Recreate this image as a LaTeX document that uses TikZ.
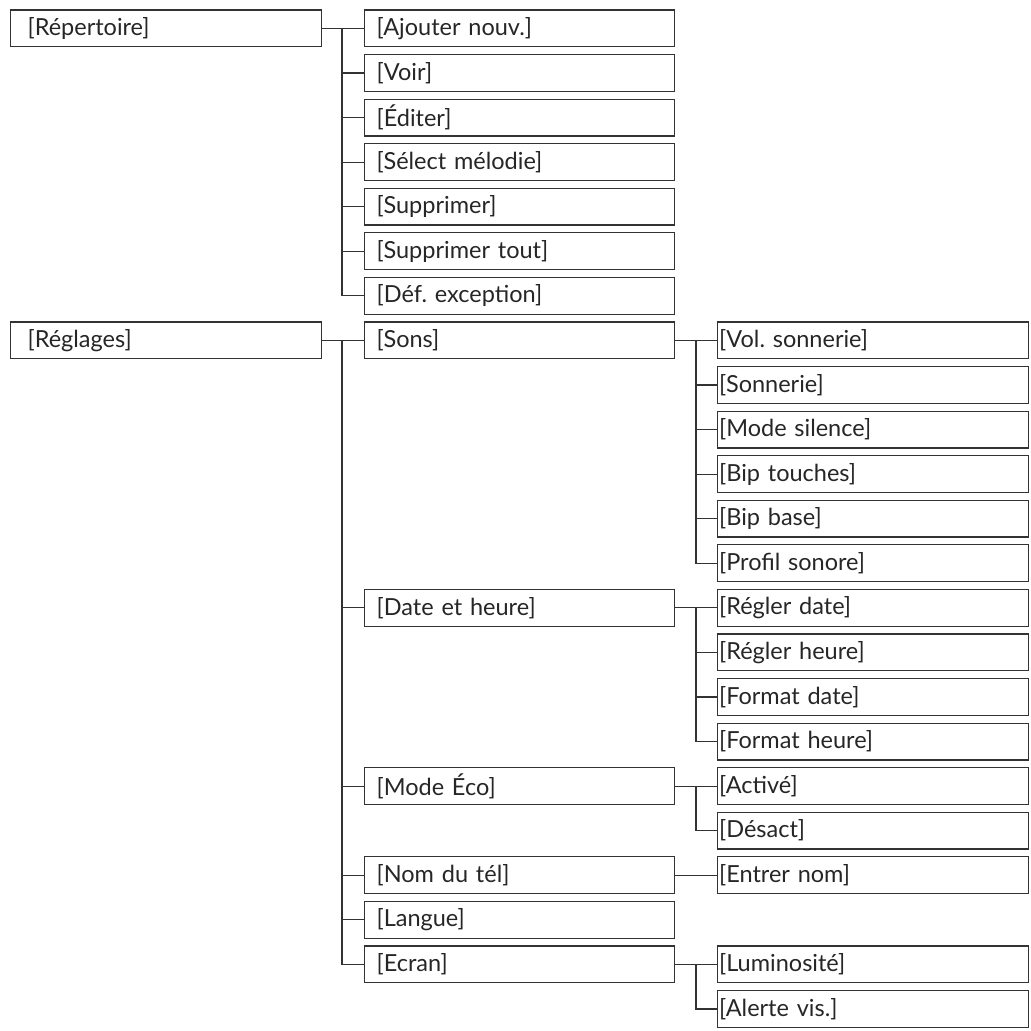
\documentclass[tikz,border=0pt]{standalone}
\usepackage{fontspec}
\setmainfont{Lato}
\begin{document}
\frenchspacing
\begin{tikzpicture}[x=1pt,y=-1pt,
  box/.style={draw=black!80, line width=1.2pt, rectangle, anchor=west, minimum height=36.8pt, inner ysep=0pt, align=left, font=\fontsize{23.5}{26}\selectfont, text=black!85},
  lone/.style={box, text width=311pt-34pt, inner xsep=17pt},
  ltwo/.style={box, text width=310pt-24pt, inner xsep=12pt},
  lthree/.style={box, text width=311pt-3pt, inner xsep=1.5pt},
  conn/.style={draw=black!80, line width=1.2pt}]
\useasboundingbox (0,0) rectangle (1031,1031);
\def\ry#1{28.4+#1*44.57}
\coordinate (ta) at (342,0);
\coordinate (tb) at (696,0);
% level 1
\node[lone] (rep) at (10,{\ry{0}}) {[Répertoire]};
\node[lone] (reg) at (10,{\ry{7}}) {[Réglages]};
% level 2
\node[ltwo] (a1) at (364,{\ry{0}}) {[Ajouter nouv.]};
\node[ltwo] (a2) at (364,{\ry{1}}) {[Voir]};
\node[ltwo] (a3) at (364,{\ry{2}}) {[Éditer]};
\node[ltwo] (a4) at (364,{\ry{3}}) {[Sélect mélodie]};
\node[ltwo] (a5) at (364,{\ry{4}}) {[Supprimer]};
\node[ltwo] (a6) at (364,{\ry{5}}) {[Supprimer tout]};
\node[ltwo] (a7) at (364,{\ry{6}}) {[Déf. exception]};
\node[ltwo] (b1) at (364,{\ry{7}}) {[Sons]};
\node[ltwo] (b2) at (364,{\ry{13}}) {[Date et heure]};
\node[ltwo] (b3) at (364,{\ry{17}}) {[Mode Éco]};
\node[ltwo] (b4) at (364,{\ry{19}}) {[Nom du tél]};
\node[ltwo] (b5) at (364,{\ry{20}}) {[Langue]};
\node[ltwo] (b6) at (364,{\ry{21}}) {[Ecran]};
% level 3
\node[lthree] (s1) at (717,{\ry{7}}) {[Vol. sonnerie]};
\node[lthree] (s2) at (717,{\ry{8}}) {[Sonnerie]};
\node[lthree] (s3) at (717,{\ry{9}}) {[Mode silence]};
\node[lthree] (s4) at (717,{\ry{10}}) {[Bip touches]};
\node[lthree] (s5) at (717,{\ry{11}}) {[Bip base]};
\node[lthree] (s6) at (717,{\ry{12}}) {[Profil sonore]};
\node[lthree] (d1) at (717,{\ry{13}}) {[Régler date]};
\node[lthree] (d2) at (717,{\ry{14}}) {[Régler heure]};
\node[lthree] (d3) at (717,{\ry{15}}) {[Format date]};
\node[lthree] (d4) at (717,{\ry{16}}) {[Format heure]};
\node[lthree] (e1) at (717,{\ry{17}}) {[Activé]};
\node[lthree] (e2) at (717,{\ry{18}}) {[Désact]};
\node[lthree] (n1) at (717,{\ry{19}}) {[Entrer nom]};
\node[lthree] (l1) at (717,{\ry{21}}) {[Luminosité]};
\node[lthree] (l2) at (717,{\ry{22}}) {[Alerte vis.]};
% connectors: Répertoire
\draw[conn] (rep.east) -- (a1.west);
\draw[conn] (a1.west -| ta) |- (a7.west);
\foreach \k in {a2,a3,a4,a5,a6} \draw[conn] (\k.west -| ta) -- (\k.west);
% Réglages
\draw[conn] (reg.east) -- (b1.west);
\draw[conn] (b1.west -| ta) |- (b6.west);
\foreach \k in {b2,b3,b4,b5} \draw[conn] (\k.west -| ta) -- (\k.west);
% Sons
\draw[conn] (b1.east) -- (s1.west);
\draw[conn] (s1.west -| tb) |- (s6.west);
\foreach \k in {s2,s3,s4,s5} \draw[conn] (\k.west -| tb) -- (\k.west);
% Date et heure
\draw[conn] (b2.east) -- (d1.west);
\draw[conn] (d1.west -| tb) |- (d4.west);
\foreach \k in {d2,d3} \draw[conn] (\k.west -| tb) -- (\k.west);
% Mode Eco
\draw[conn] (b3.east) -- (e1.west);
\draw[conn] (e1.west -| tb) |- (e2.west);
% Nom du tel
\draw[conn] (b4.east) -- (n1.west);
% Ecran
\draw[conn] (b6.east) -- (l1.west);
\draw[conn] (l1.west -| tb) |- (l2.west);
\end{tikzpicture}
\end{document}
